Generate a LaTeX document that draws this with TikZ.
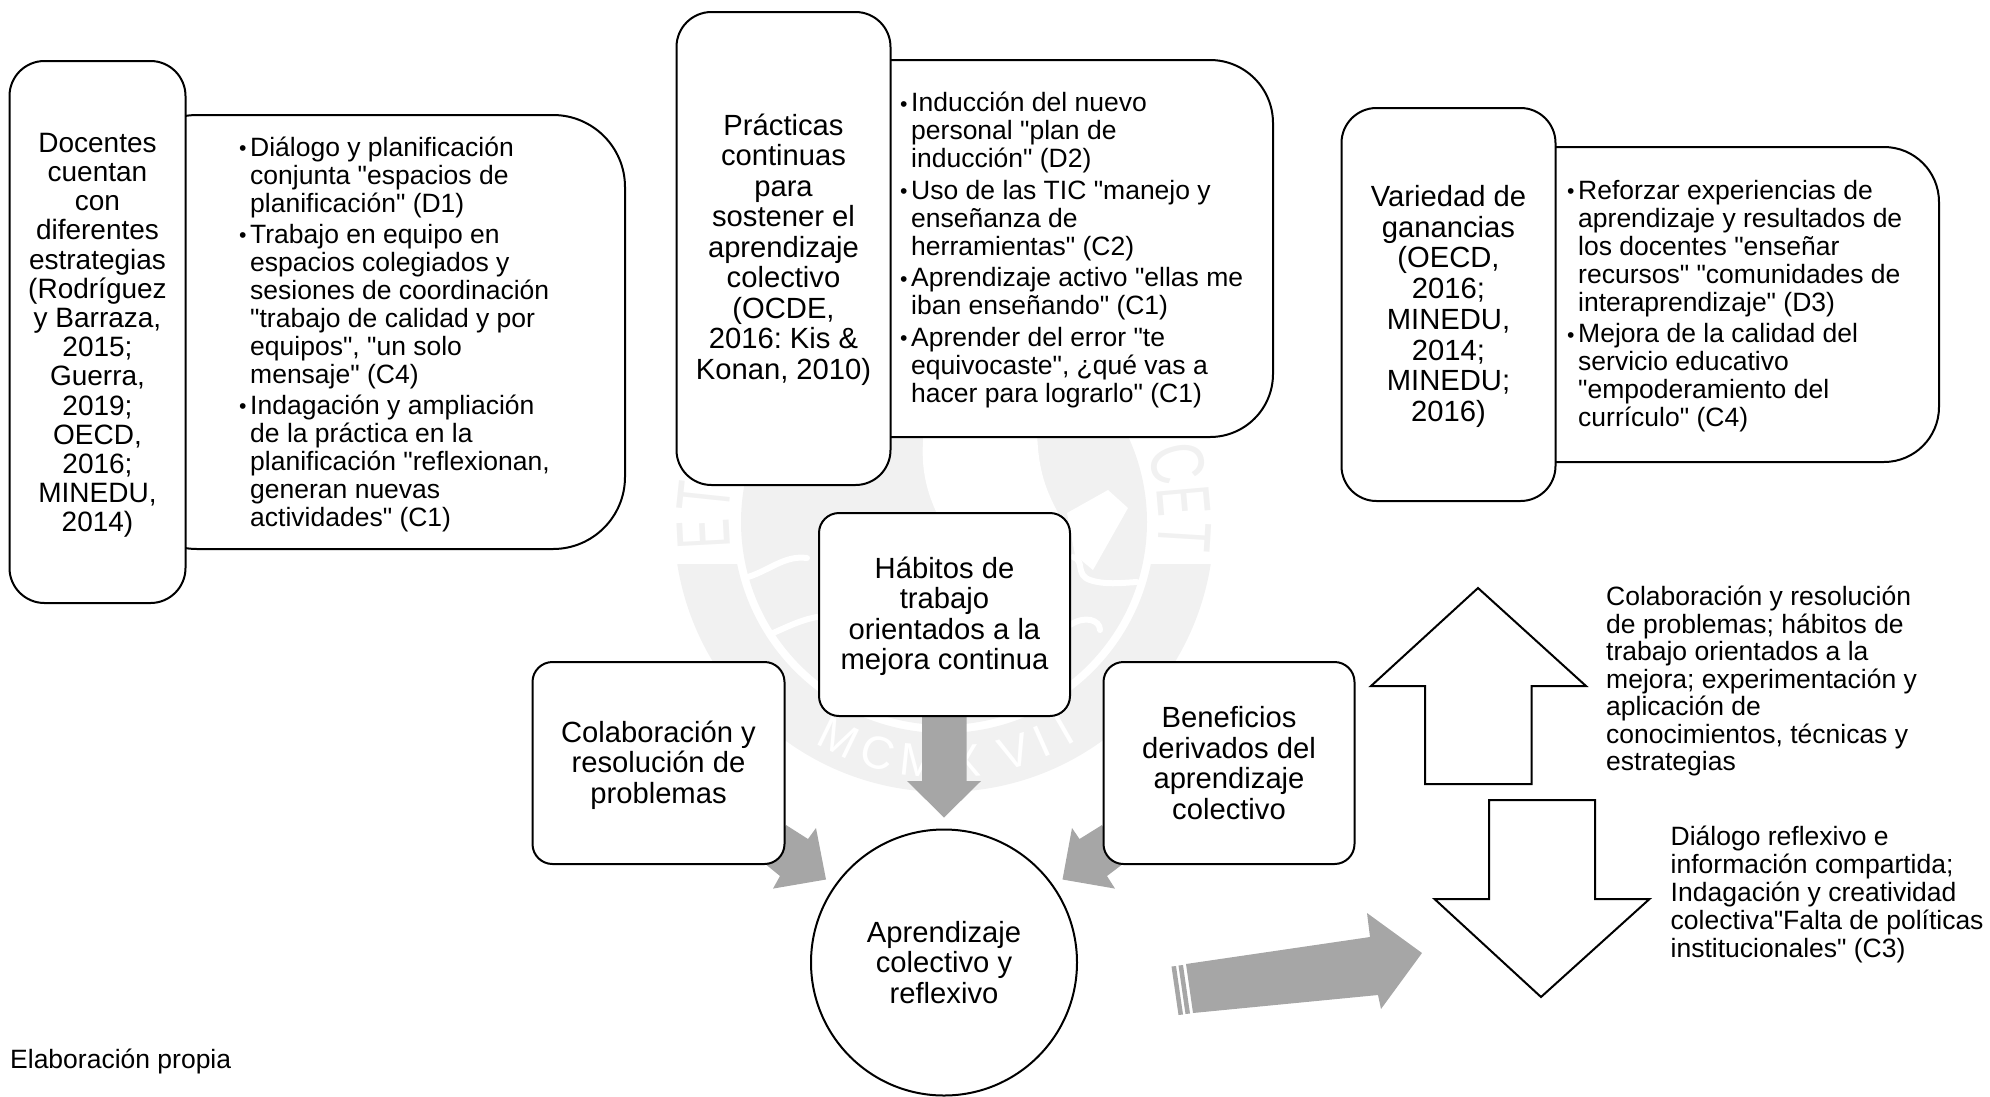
\documentclass[tikz,border=0pt]{standalone}
\usepackage{fontspec}
\setmainfont{Liberation Sans}[Ligatures=TeXOff]
\AtBeginDocument{\frenchspacing}
\newcommand{\bul}{\makebox[11pt][l]{\raisebox{0.5pt}{\scalebox{0.8}{\textbullet}}}}
\newcommand{\ind}{\hspace*{11pt}}
\newcommand{\dn}[1]{\rule{0pt}{#1}}
\definecolor{arrowgrey}{HTML}{A6A6A6}
\definecolor{sealgrey}{HTML}{F1F1F1}
\tikzset{
  x=1pt,y=-1pt,
  headbox/.style={draw=black,line width=2pt,fill=white,rounded corners=#1,align=center,inner sep=0pt,font=\fontsize{29.2}{30.5}\selectfont},
  sidebox/.style={draw=black,line width=2pt,fill=white,rounded corners=#1,inner sep=0pt},
  bodytext/.style={align=left,anchor=west,inner sep=0pt,font=\fontsize{26.5}{28}\selectfont},
  greyarrow/.style={fill=arrowgrey,draw=none},
  outlinearrow/.style={draw=black,line width=2pt,fill=white,line join=miter},
  sealtext/.style={sealgrey,inner sep=0pt,font=\fontsize{76}{76}\selectfont},
  sealyeartext/.style={white,inner sep=0pt,font=\fontsize{46}{46}\selectfont},
  seallines/.style={white,line width=6pt,line cap=round},
}
\begin{document}
\begin{tikzpicture}
\useasboundingbox (0,0) rectangle (1990,1096);
% watermark: ring sector, inner disk, lettering
\begin{scope}
\clip (600,564) rectangle (1300,800);
\draw[sealgrey,line width=59pt] (944,522) circle (240.5);
\end{scope}
\fill[sealgrey] (944,522) circle (203);
\fill[white] (924,430) .. controls (920,465) and (925,490) .. (940,520) -- (1062,520) .. controls (1045,490) and (1038,470) .. (1037,430) -- cycle;
\draw[seallines] (748,577) .. controls (770,570) and (785,555) .. (807,558);
\draw[seallines] (773,633) .. controls (785,628) and (800,620) .. (817,617);
\draw[seallines] (1073,557) .. controls (1085,560) and (1075,575) .. (1090,580) .. controls (1105,585) and (1120,583) .. (1137,582);
\draw[seallines] (1070,625) .. controls (1085,615) and (1100,620) .. (1100,630);
\fill[white] (1067,513)--(1108,490)--(1128,508)--(1093,570)--(1075,555)--cycle;
\begin{scope}[shift={(944,522)}]
\foreach \a/\l/\s in {183/E/0.58,174/T/0.64,14/C/0.72,5/E/0.58,-3.5/T/0.64}{
  \node[sealtext,rotate=\a-90] at (\a:241pt) {\scalebox{\s}[1]{\l}};}
\foreach \a/\l in {-116/M,-106/C,-96/M,-85/X,-73/V,-66/I,-60/I}{
  \node[sealyeartext,rotate=\a+90] at (\a:240pt) {\l};}
\end{scope}
% side boxes
\node[sidebox=72pt,minimum width=500pt,minimum height=434pt] (s1) at (375,332) {};
\node[sidebox=63pt,minimum width=450pt,minimum height=377pt] (s2) at (1048,248.5) {};
\node[sidebox=55pt,minimum width=450pt,minimum height=315pt] (s3) at (1714,304.5) {};
% heading boxes
\node[headbox=35pt,minimum width=176pt,minimum height=542pt,font=\fontsize{28}{29.2}\selectfont] (h1) at (97.5,332)
 {\dn{26pt}Docentes\\cuentan\\con\\diferentes\\estrategias\\(Rodríguez\\y Barraza,\\2015;\\Guerra,\\2019;\\OECD,\\2016;\\MINEDU,\\2014)};
\node[headbox=35pt,minimum width=214pt,minimum height=473pt] (h2) at (783.5,248.5)
 {\dn{24pt}Prácticas\\continuas\\para\\sostener el\\aprendizaje\\colectivo\\(OCDE,\\2016: Kis \&\\Konan, 2010)};
\node[headbox=35pt,minimum width=214pt,minimum height=393pt,font=\fontsize{29.2}{30.7}\selectfont] (h3) at (1448.5,304.5)
 {\dn{25pt}Variedad de\\ganancias\\(OECD,\\2016;\\MINEDU,\\2014;\\MINEDU;\\2016)};
% side texts
\node[bodytext] (t1) at (239,334) {\bul Diálogo y planificación\\\ind conjunta "espacios de\\\ind planificación" (D1)\\[3pt]\bul Trabajo en equipo en\\\ind espacios colegiados y\\\ind sesiones de coordinación\\\ind "trabajo de calidad y por\\\ind equipos", "un solo\\\ind mensaje" (C4)\\[3pt]\bul Indagación y ampliación\\\ind de la práctica en la\\\ind planificación "reflexionan,\\\ind generan nuevas\\\ind actividades" (C1)};
\node[bodytext] (t2) at (900,250) {\bul Inducción del nuevo\\\ind personal "plan de\\\ind inducción" (D2)\\[3.5pt]\bul Uso de las TIC "manejo y\\\ind enseñanza de\\\ind herramientas" (C2)\\[3.5pt]\bul Aprendizaje activo "ellas me\\\ind iban enseñando" (C1)\\[3.5pt]\bul Aprender del error "te\\\ind equivocaste", ¿qué vas a\\\ind hacer para lograrlo" (C1)};
\node[bodytext] (t3) at (1567,306) {\bul Reforzar experiencias de\\\ind aprendizaje y resultados de\\\ind los docentes "enseñar\\\ind recursos" "comunidades de\\\ind interaprendizaje" (D3)\\[3.5pt]\bul Mejora de la calidad del\\\ind servicio educativo\\\ind "empoderamiento del\\\ind currículo" (C4)};
% grey arrows (under the boxes)
\path[greyarrow] (922,700)--(966.5,700)--(966.5,781)--(981,781)--(944,817.5)--(907,781)--(922,781)--cycle;
\path[greyarrow] (786,825)--(808,839)--(816,828)--(826,879.5)--(773,888.6)--(780,876)--(766.5,865)--cycle;
\path[greyarrow] (1102,825)--(1079.5,839)--(1072,828)--(1062.5,879.5)--(1115,888.6)--(1107,876)--(1121.5,865)--cycle;
\path[greyarrow] (1186,964)--(1370,937)--(1367,913)--(1422,953)--(1381,1009)--(1378,995)--(1193,1013)--cycle;
\path[greyarrow] (1178.5,965.5)--(1183,965)--(1190,1013.5)--(1185.5,1014)--cycle;
\path[greyarrow] (1171.5,966.5)--(1176,966)--(1183,1014.5)--(1178.5,1015)--cycle;
% centre boxes
\node[headbox=20pt,minimum width=251pt,minimum height=203pt] (hab) at (944.5,614.5) {\dn{25pt}Hábitos de\\trabajo\\orientados a la\\mejora continua};
\node[headbox=20pt,minimum width=252pt,minimum height=202pt] (col) at (658.5,763) {\dn{26pt}Colaboración y\\resolución de\\problemas};
\node[headbox=20pt,minimum width=251pt,minimum height=202pt] (ben) at (1229,763) {Beneficios\\derivados del\\aprendizaje\\colectivo};
\node[headbox=0pt,circle,minimum size=266pt] (apr) at (944,962.5) {Aprendizaje\\colectivo y\\reflexivo};
% outline arrows
\path[outlinearrow] (1478,588)--(1586,686)--(1531.5,686)--(1531.5,784)--(1425,784)--(1425,686)--(1371,686)--cycle;
\path[outlinearrow] (1489,800)--(1595,800)--(1595,899)--(1649.5,899)--(1541,997)--(1434.5,899)--(1489,899)--cycle;
% annotations
\node[bodytext,font=\fontsize{26.5}{27.5}\selectfont] (up) at (1606,681) {Colaboración y resolución\\de problemas; hábitos de\\trabajo orientados a la\\mejora; experimentación y\\aplicación de\\conocimientos, técnicas y\\estrategias};
\node[bodytext] (down) at (1670.5,894) {Diálogo reflexivo e\\información compartida;\\Indagación y creatividad\\colectiva"Falta de políticas\\institucionales" (C3)};
\node[bodytext] (src) at (10,1061.5) {Elaboración propia};
\end{tikzpicture}
\end{document}
